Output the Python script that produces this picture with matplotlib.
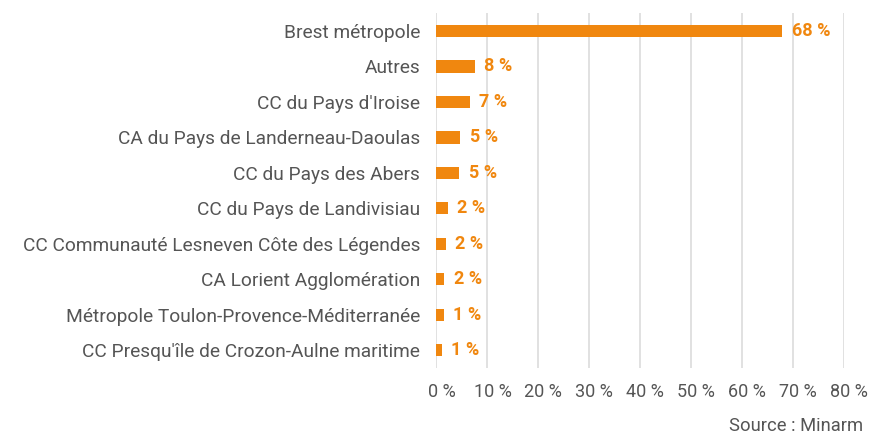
import matplotlib.pyplot as plt
from matplotlib.ticker import MultipleLocator, FuncFormatter
from matplotlib.transforms import ScaledTranslation

plt.rcParams['font.family'] = ['Roboto', 'DejaVu Sans']

categories = [
    "Brest métropole",
    "Autres",
    "CC du Pays d'Iroise",
    "CA du Pays de Landerneau-Daoulas",
    "CC du Pays des Abers",
    "CC du Pays de Landivisiau",
    "CC Communauté Lesneven Côte des Légendes",
    "CA Lorient Agglomération",
    "Métropole Toulon-Provence-Méditerranée",
    "CC Presqu'île de Crozon-Aulne maritime",
]
values = [68.0, 7.6, 6.6, 4.8, 4.6, 2.3, 1.9, 1.6, 1.5, 1.1]
labels = ["68 %", "8 %", "7 %", "5 %", "5 %", "2 %", "2 %", "2 %", "1 %", "1 %"]

orange = "#f0870f"
grey_text = "#555555"

fig = plt.figure(figsize=(8.88, 4.36), dpi=100)
ax = fig.add_axes([0.491, 0.156, 0.459, 0.814])

pos = list(range(len(categories)))[::-1]
ax.barh(pos, values, height=0.35, color=orange, zorder=3)

for p, v, lab in zip(pos, values, labels):
    ax.text(v + 1.9, p, lab, va="center", ha="left", color=orange,
            fontsize=13, fontweight="bold")

ax.set_xlim(0, 80)
ax.set_ylim(-0.5, 9.5)
ax.set_yticks(pos)
ax.set_yticklabels(categories, fontsize=13.8, color=grey_text)
ax.xaxis.set_major_locator(MultipleLocator(10))
ax.xaxis.set_major_formatter(FuncFormatter(lambda x, _: f"{int(x)} %"))
ax.tick_params(axis="x", labelsize=13, labelcolor=grey_text, length=0, pad=11)
ax.tick_params(axis="y", length=0, pad=11.5)

# labels sit a few pixels right of the gridlines in the original
shift = ScaledTranslation(5.5 / 100, 0, fig.dpi_scale_trans)
for t in ax.get_xticklabels():
    t.set_transform(t.get_transform() + shift)

ax.grid(axis="x", color="#dcdcdc", linewidth=1.2, zorder=0)
for s in ax.spines.values():
    s.set_visible(False)

fig.text(0.972, 0.003, "Source : Minarm", ha="right", va="bottom",
         fontsize=13.2, color=grey_text)

fig.savefig("out.png", dpi=100)
